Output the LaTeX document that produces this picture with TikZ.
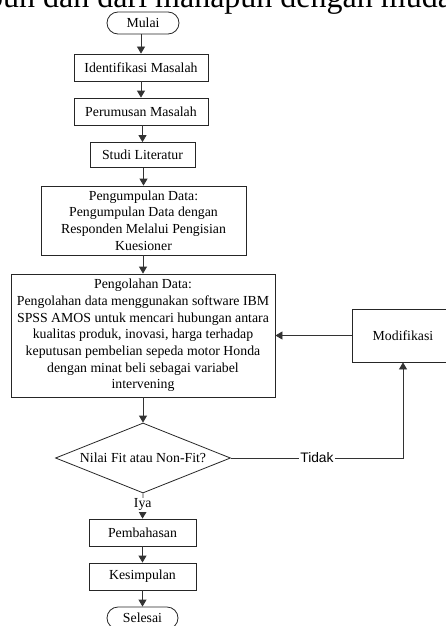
\documentclass[tikz,border=0pt]{standalone}
\usepackage{fontspec}
\setmainfont{Liberation Serif}
\newfontfamily\labelfont{Liberation Sans}
\usetikzlibrary{arrows.meta,shapes.geometric}

\tikzset{
    stepbox/.style={draw, thick, black!85, text=black, align=center, inner sep=2pt,
        font=\fontsize{13.8}{16.7}\selectfont},
    termbox/.style={stepbox, rounded corners=11pt},
    decbox/.style={draw, thick, black!85, text=black, diamond, aspect=2.5, inner sep=0pt,
        font=\fontsize{13.8}{16.7}\selectfont},
    flow/.style={thick, black!80, -{Triangle[width=8pt,length=7pt]}},
    lbl/.style={fill=white, inner sep=1pt, text=black}
}

\begin{document}
\begin{tikzpicture}[x=1pt, y=-1pt]
        \useasboundingbox (0,0) rectangle (445,626);

        % Page text cut at the top
        \node[anchor=base west, inner sep=0pt, font=\fontsize{32}{36}\selectfont] (pagetext) at (-13,8) {pun dan dari manapun dengan mudah};

        % Nodes
        \node[termbox, minimum width=72pt, minimum height=22pt] (mulai) at (143,23) {Mulai};
        \node[stepbox, minimum width=134pt, minimum height=27pt] (identifikasi) at (141,67.5) {Identifikasi Masalah};
        \node[stepbox, minimum width=134pt, minimum height=27pt] (perumusan) at (141,111.5) {Perumusan Masalah};
        \node[stepbox, minimum width=105pt, minimum height=25pt] (studi) at (142.5,155) {Studi Literatur};
        \node[stepbox, minimum width=205pt, minimum height=69pt] (pengumpulan) at (143.5,220.5)
            {Pengumpulan Data:\\Pengumpulan Data dengan\\Responden Melalui Pengisian\\Kuesioner};
        \node[stepbox, minimum width=264pt, minimum height=123pt] (pengolahan) at (143,335.5)
            {Pengolahan Data:\\Pengolahan data menggunakan software IBM\\SPSS AMOS untuk mencari hubungan antara\\kualitas produk, inovasi, harga terhadap\\keputusan pembelian sepeda motor Honda\\dengan minat beli sebagai variabel\\intervening};
        \node[stepbox, minimum width=102pt, minimum height=53pt] (modifikasi) at (403,335.5) {Modifikasi};
        \node[decbox, minimum width=175pt, minimum height=70pt] (cek) at (143,458) {Nilai Fit atau Non-Fit?};
        \node[stepbox, minimum width=107pt, minimum height=27pt] (pembahasan) at (142.5,532.5) {Pembahasan};
        \node[stepbox, minimum width=107pt, minimum height=27pt] (kesimpulan) at (142.5,576.5) {Kesimpulan};
        \node[termbox, minimum width=71pt, minimum height=22pt] (selesai) at (142.5,618) {Selesai};

        % Edges
        \foreach \from/\to in {mulai/identifikasi, identifikasi/perumusan, perumusan/studi,
            studi/pengumpulan, pengumpulan/pengolahan, pengolahan/cek,
            pembahasan/kesimpulan, kesimpulan/selesai}
            \draw[flow] (\from.south -| \to) -- (\to.north);
        \draw[flow] (cek.south) -- node[lbl, pos=0.45, font=\fontsize{13.8}{16}\selectfont] {Iya} (pembahasan.north);
        \draw[flow] (cek.east) -- node[lbl, font=\labelfont\fontsize{13.8}{16}\selectfont] {Tidak} (cek.east -| modifikasi) -- (modifikasi.south);
        \draw[flow] (modifikasi.west) -- (pengolahan.east);
    \end{tikzpicture}
\end{document}
